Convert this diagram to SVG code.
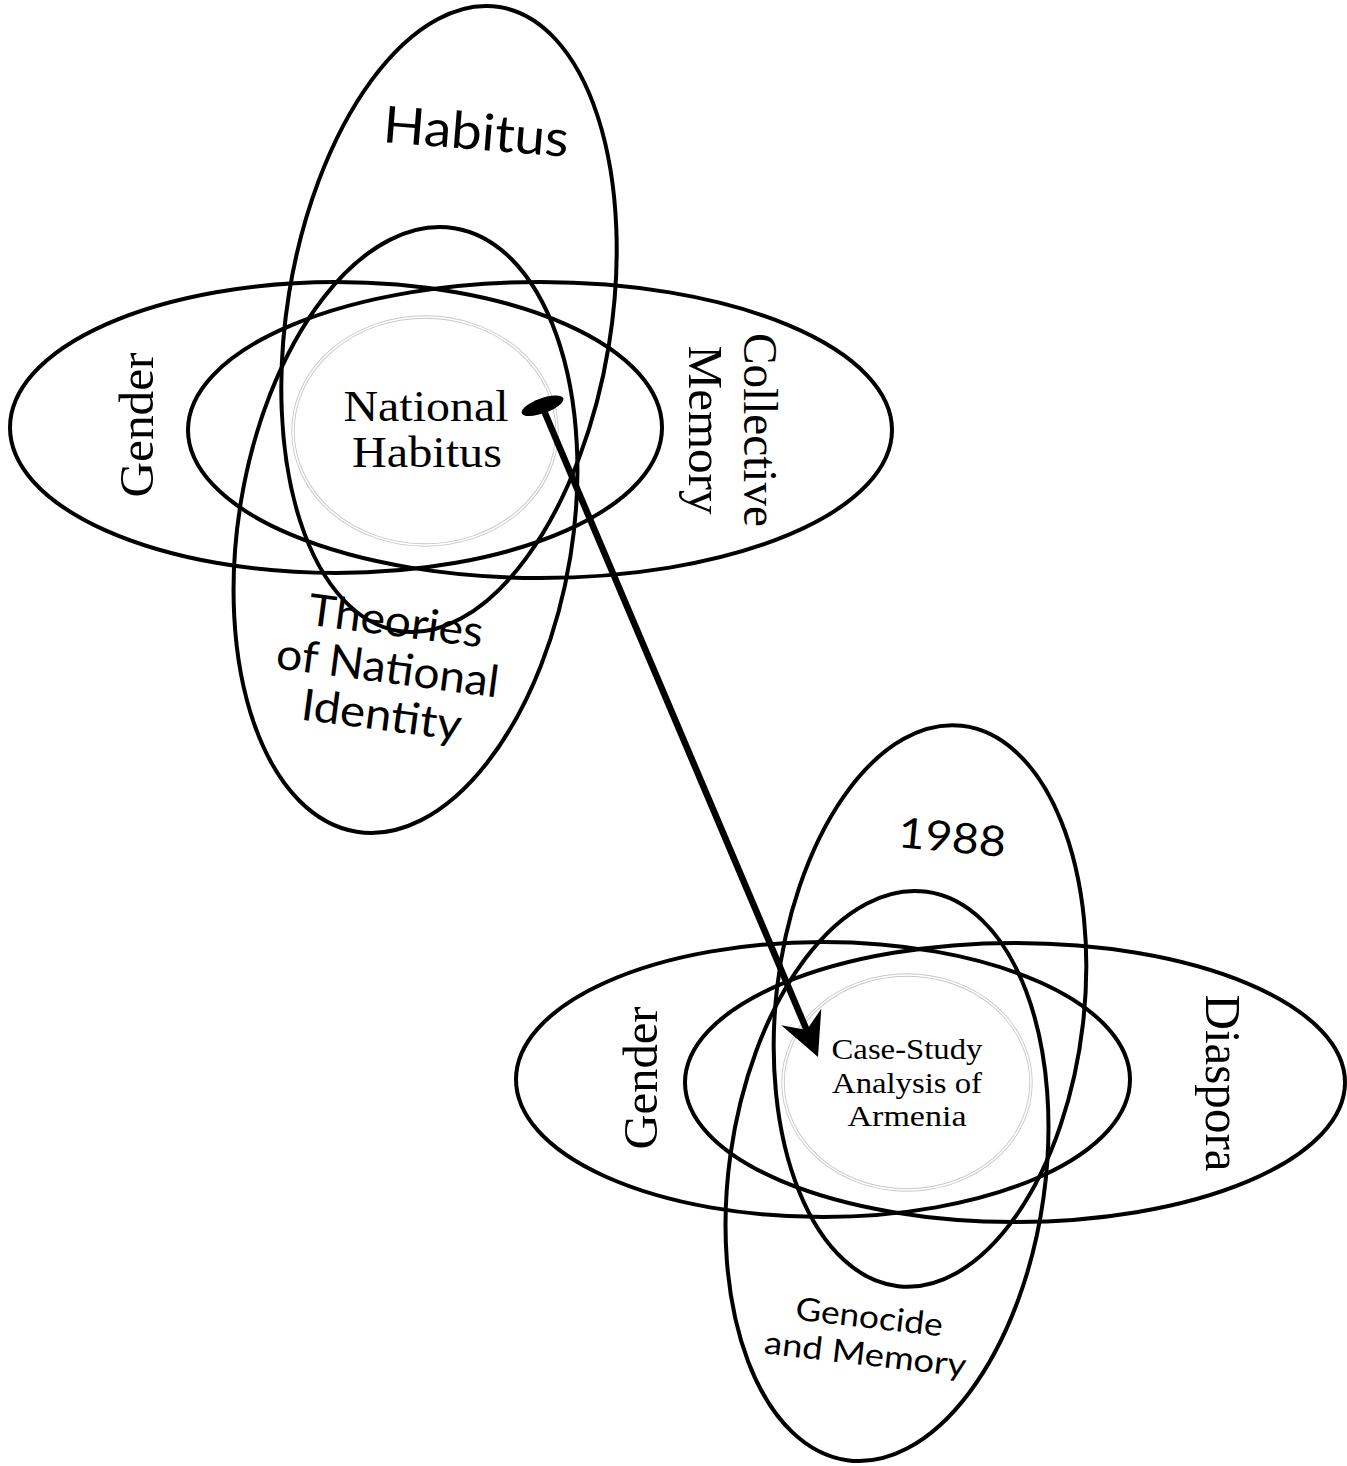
<svg xmlns="http://www.w3.org/2000/svg" width="1347" height="1466" viewBox="0 0 1347 1466">
<style>
.ring{fill:none;stroke:#000;stroke-width:4}
.faintA{fill:none;stroke:#c8c8c8;stroke-width:3.4}
.faintB{fill:none;stroke:#fff;stroke-width:1.6}
.serif{font-family:"Liberation Serif","Times New Roman",serif;fill:#000}
.sans{font-family:Lato,"Liberation Sans",Arial,sans-serif;fill:#000}
</style>
<rect width="1347" height="1466" fill="#fff"/>

<g id="top-cluster">
  <g id="node-national-habitus">
    <ellipse class="faintA" cx="425" cy="431" rx="132" ry="114"/>
    <ellipse class="faintB" cx="425" cy="431" rx="132" ry="114"/>
    <text class="serif" font-size="44" text-anchor="middle" x="426" y="421" textLength="165" lengthAdjust="spacingAndGlyphs">National</text>
    <text class="serif" font-size="44" text-anchor="middle" x="427" y="467" textLength="150" lengthAdjust="spacingAndGlyphs">Habitus</text>
  </g>
  <g id="node-habitus">
    <ellipse class="ring" cx="449" cy="319" rx="162" ry="316" transform="rotate(9.2 449 319)"/>
    <text class="sans" font-size="51" x="382" y="142" transform="rotate(4.6 382 142)" textLength="186" lengthAdjust="spacingAndGlyphs">Habitus</text>
  </g>
  <g id="node-theories">
    <ellipse class="ring" cx="405.5" cy="530" rx="167" ry="305.7" transform="rotate(9.2 405.5 530)"/>
    <g transform="translate(394 636) rotate(7.5)">
      <text class="sans" font-size="44" text-anchor="middle" x="0" y="0" textLength="176" lengthAdjust="spacingAndGlyphs">Theories</text>
      <text class="sans" font-size="44" text-anchor="middle" x="-2" y="47.5" textLength="224" lengthAdjust="spacingAndGlyphs">of National</text>
      <text class="sans" font-size="44" text-anchor="middle" x="-2" y="95" textLength="161" lengthAdjust="spacingAndGlyphs">Identity</text>
    </g>
  </g>
  <g id="node-gender-top">
    <ellipse class="ring" cx="336" cy="427.5" rx="326" ry="145.5"/>
    <text class="serif" font-size="48" text-anchor="middle" transform="translate(153 425) rotate(-90)" textLength="145" lengthAdjust="spacingAndGlyphs">Gender</text>
  </g>
  <g id="node-collective-memory">
    <ellipse class="ring" cx="540" cy="430" rx="352" ry="148"/>
    <text class="serif" font-size="48" text-anchor="middle" transform="translate(744 430) rotate(90)" textLength="194" lengthAdjust="spacingAndGlyphs">Collective</text>
    <text class="serif" font-size="48" text-anchor="middle" transform="translate(689 430) rotate(90)" textLength="169" lengthAdjust="spacingAndGlyphs">Memory</text>
  </g>
</g>

<g id="bottom-cluster">
  <g id="node-case-study">
    <ellipse class="faintA" cx="907" cy="1082.5" rx="124" ry="107.5"/>
    <ellipse class="faintB" cx="907" cy="1082.5" rx="124" ry="107.5"/>
    <text class="serif" font-size="29" text-anchor="middle" x="907" y="1059" textLength="151" lengthAdjust="spacingAndGlyphs">Case-Study</text>
    <text class="serif" font-size="29" text-anchor="middle" x="907" y="1093" textLength="150" lengthAdjust="spacingAndGlyphs">Analysis of</text>
    <text class="serif" font-size="29" text-anchor="middle" x="907" y="1126" textLength="119" lengthAdjust="spacingAndGlyphs">Armenia</text>
  </g>
  <g id="node-1988">
    <ellipse class="ring" cx="930" cy="1006" rx="154" ry="282" transform="rotate(6.5 930 1006)"/>
    <text class="sans" font-size="42" x="897" y="847" transform="rotate(5.3 897 847)" textLength="108" lengthAdjust="spacingAndGlyphs">1988</text>
  </g>
  <g id="node-genocide">
    <ellipse class="ring" cx="887" cy="1176" rx="158" ry="287" transform="rotate(8 887 1176)"/>
    <g transform="translate(868 1328) rotate(6.6)">
      <text class="sans" font-size="32" text-anchor="middle" x="0" y="0" textLength="148" lengthAdjust="spacingAndGlyphs">Genocide</text>
      <text class="sans" font-size="32" text-anchor="middle" x="0.3" y="37.2" textLength="203" lengthAdjust="spacingAndGlyphs">and Memory</text>
    </g>
  </g>
  <g id="node-gender-bottom">
    <ellipse class="ring" cx="823" cy="1079.5" rx="307" ry="137.5"/>
    <text class="serif" font-size="48" text-anchor="middle" transform="translate(657 1078) rotate(-90)" textLength="143" lengthAdjust="spacingAndGlyphs">Gender</text>
  </g>
  <g id="node-diaspora">
    <ellipse class="ring" cx="1015" cy="1082.5" rx="330" ry="139.5"/>
    <text class="serif" font-size="50" text-anchor="middle" transform="translate(1206 1083) rotate(90)" textLength="177" lengthAdjust="spacingAndGlyphs">Diaspora</text>
  </g>
</g>

<g id="connectors">
  <line x1="542" y1="406" x2="806.7" y2="1030" stroke="#000" stroke-width="6.5"/>
  <ellipse cx="542.5" cy="405.8" rx="22" ry="7.5" transform="rotate(-19.8 542.5 405.8)" fill="#000"/>
  <polygon points="818,1057 781.3,1025.3 806.7,1030 821.3,1008.7" fill="#000"/>
</g>
</svg>
